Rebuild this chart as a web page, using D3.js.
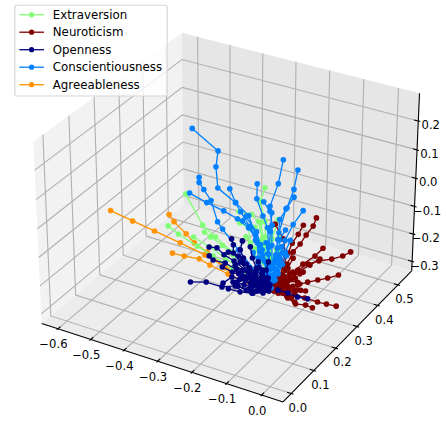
<!DOCTYPE html>
<html>
<head>
<meta charset="utf-8">
<script src="https://d3js.org/d3.v7.min.js"></script>
<style>
  html, body { margin: 0; padding: 0; background: #fff; }
  svg { display: block; }
  text { font-family: "DejaVu Sans", sans-serif; fill: #000; }
</style>
</head>
<body>
<div id="chart"></div>
<script>
// legend order and colours
var traitNames = ['Extraversion', 'Neuroticism', 'Openness', 'Conscientiousness', 'Agreeableness'];
var traitColors = ['#80ff77', '#800000', '#000080', '#0080ff', '#ff9400'];

var xTicks = [-0.6, -0.5, -0.4, -0.3, -0.2, -0.1, 0.0];
var yTicks = [0.0, 0.1, 0.2, 0.3, 0.4, 0.5];
var zTicks = [-0.3, -0.2, -0.1, 0.0, 0.1, 0.2];
var xLim = [-0.65, 0.06];
var yLim = [-0.036, 0.57];
var zLim = [-0.335, 0.295];

// each trait is a list of trajectories, each point is [x, y, z]
var extraversion = [
  [[-0.238,0,0.233],[-0.191,0,0.147],[-0.155,0,0.120],[-0.108,0,0.086],[-0.064,0,0.049],[-0.025,0,0.023]],
  [[-0.289,0,0.110],[-0.260,0,0.093],[-0.206,0,0.071],[-0.162,0,0.054],[-0.108,0,0.032],[-0.053,0,0.019]],
  [[-0.186,0,0.125],[-0.169,0,0.115],[-0.136,0,0.099],[-0.105,0,0.077],[-0.058,0,0.044]],
  [[-0.217,0,0.098],[-0.172,0,0.081],[-0.127,0,0.059],[-0.072,0,0.032]],
  [[-0.019,0,0.327],[-0.032,0,0.278],[-0.018,0,0.219],[-0.017,0,0.169],[-0.009,0,0.113],[-0.003,0,0.048]],
  [[-0.090,0,0.226],[-0.055,0,0.229],[-0.036,0,0.212],[-0.025,0,0.157],[-0.014,0,0.087]],
  [[0,0.027,0.212],[0,0.002,0.165],[0,0.002,0.105],[0,0.002,0.038]],
  [[-0.088,0,0.190],[-0.063,0,0.182],[-0.058,0,0.134],[-0.036,0,0.079],[-0.008,0,0.030]],
  [[0,0.038,0.098],[0,0.021,0.056],[0,0.008,0.019]],
  [[-0.030,0,0.211],[-0.019,0,0.142],[-0.008,0,0.069]],
  [[-0.045,0,0.190],[-0.035,0,0.150],[-0.022,0,0.110],[-0.010,0,0.060]],
  [[-0.005,0,0.195],[-0.003,0,0.150],[-0.002,0,0.100]],
  [[0,0.030,0.150],[0,0.022,0.115],[0,0.012,0.070]],
  [[-0.070,0,0.150],[-0.045,0,0.120],[-0.025,0,0.085],[-0.010,0,0.045]]
];
var neuroticism = [
  [[0,0.360,-0.135],[0,0.322,-0.122],[0,0.270,-0.095],[0,0.210,-0.058],[0,0.161,-0.033],[0,0.116,-0.020],[0,0.060,-0.013]],
  [[0,0.228,-0.027],[0,0.192,-0.028],[0,0.138,-0.016],[0,0.094,-0.011],[0,0.047,-0.010]],
  [[0,0.304,-0.176],[0,0.253,-0.149],[0,0.207,-0.122],[0,0.161,-0.095],[0,0.117,-0.072],[0,0.073,-0.046],[0,0.038,-0.024]],
  [[0,0.297,-0.282],[0,0.250,-0.239],[0,0.208,-0.200],[0,0.149,-0.141],[0,0.104,-0.094],[0,0.060,-0.047]],
  [[0,0.185,-0.203],[0,0.153,-0.169],[0,0.108,-0.131],[0,0.073,-0.084],[0,0.038,-0.040]],
  [[0,0.195,0.100],[0,0.181,0.082],[0,0.150,0.074],[0,0.124,0.062],[0,0.094,0.057],[0,0.068,0.035],[0,0.038,0.010]],
  [[0,0.137,0.116],[0,0.115,0.101],[0,0.089,0.090],[0,0.072,0.069],[0,0.051,0.041],[0,0.034,0.006]],
  [[0,0.015,0.205],[0,0.050,0.132],[0,0.059,0.082],[0,0.051,0.044],[0,0.030,0.003]],
  [[0,0.215,-0.055],[0,0.170,-0.043],[0,0.116,-0.027],[0,0.081,-0.022],[0,0.038,-0.013]],
  [[0,0.152,-0.119],[0,0.112,-0.086],[0,0.077,-0.053],[0,0.038,-0.020]],
  [[0,0.094,0.036],[0,0.072,0.018],[0,0.047,0.003]],
  [[0,0.116,-0.062],[0,0.073,-0.026],[0,0.038,0.000]],
  [[0,0.104,-0.121],[0,0.068,-0.073],[0,0.030,-0.024]],
  [[0,0.125,-0.075],[0,0.095,-0.060],[0,0.070,-0.040],[0,0.045,-0.025],[0,0.020,-0.010]],
  [[0,0.130,-0.100],[0,0.100,-0.080],[0,0.075,-0.060],[0,0.050,-0.040],[0,0.025,-0.020]],
  [[0,0.105,-0.040],[0,0.085,-0.030],[0,0.060,-0.025],[0,0.035,-0.010],[0,0.015,-0.005]],
  [[0,0.090,-0.095],[0,0.070,-0.075],[0,0.050,-0.050],[0,0.030,-0.035],[0,0.012,-0.015]],
  [[0,0.080,-0.005],[0,0.060,-0.002],[0,0.045,-0.005],[0,0.025,0.000],[0,0.010,0.002]],
  [[0,0.060,0.020],[0,0.045,0.015],[0,0.030,0.018],[0,0.015,0.010]],
  [[0,0.140,-0.045],[0,0.125,-0.040],[0,0.100,-0.020]]
];
var openness = [
  [[-0.227,0,-0.058],[-0.182,0,-0.042],[-0.137,0,-0.042],[-0.100,0,-0.025],[-0.053,0,-0.022],[-0.017,0,-0.005]],
  [[-0.173,0,0.080],[-0.151,0,0.085],[-0.131,0,0.069],[-0.103,0,0.058],[-0.072,0,0.039],[-0.036,0,0.018]],
  [[-0.173,0,0.050],[-0.162,0,0.040],[-0.128,0,0.042],[-0.095,0,0.031],[-0.058,0,0.017],[-0.025,0,0.006]],
  [[-0.110,0,0.129],[-0.105,0,0.111],[-0.105,0,0.084],[-0.086,0,0.061],[-0.064,0,0.035],[-0.030,0,0.010]],
  [[-0.080,0,0.133],[-0.086,0,0.101],[-0.077,0,0.077],[-0.061,0,0.049],[-0.044,0,0.029],[-0.017,0,0.008]],
  [[-0.134,0,-0.028],[-0.109,0,0.002],[-0.086,0,0.003],[-0.058,0,0.000],[-0.025,0,-0.001]],
  [[-0.106,0,-0.014],[-0.092,0,-0.023],[-0.069,0,-0.028],[-0.050,0,-0.031],[-0.022,0,-0.020]],
  [[0,0.162,-0.154],[0,0.116,-0.113],[0,0.073,-0.067],[0,0.030,-0.025]],
  [[-0.058,0,0.121],[-0.052,0,0.086],[-0.041,0,0.057],[-0.025,0,0.029],[-0.008,0,0.012]],
  [[-0.119,0,0.082],[-0.091,0,0.079],[-0.069,0,0.060],[-0.044,0,0.042],[-0.017,0,0.019]],
  [[-0.136,0,0.026],[-0.108,0,0.019],[-0.080,0,0.015],[-0.053,0,0.012],[-0.019,0,0.008]],
  [[-0.119,0,-0.042],[-0.086,0,-0.040],[-0.053,0,-0.032],[-0.025,0,-0.015]],
  [[-0.008,0,0.089],[-0.014,0,0.060],[-0.008,0,0.035],[-0.003,0,0.014]],
  [[-0.036,0,0.079],[-0.025,0,0.056],[-0.014,0,0.033]],
  [[-0.072,0,0.005],[-0.044,0,-0.001],[-0.017,0,-0.008]],
  [[-0.100,0,0.045],[-0.080,0,0.035],[-0.060,0,0.030],[-0.040,0,0.020],[-0.015,0,0.010]],
  [[-0.090,0,0.020],[-0.070,0,0.015],[-0.050,0,0.012],[-0.030,0,0.006],[-0.010,0,0.002]],
  [[-0.075,0,0.060],[-0.060,0,0.050],[-0.045,0,0.035],[-0.030,0,0.022],[-0.012,0,0.012]],
  [[-0.095,0,-0.010],[-0.075,0,-0.012],[-0.055,0,-0.012],[-0.035,0,-0.010],[-0.012,0,-0.006]],
  [[-0.060,0,-0.020],[-0.040,0,-0.020],[-0.020,0,-0.012],[-0.006,0,-0.008]],
  [[-0.035,0,0.060],[-0.025,0,0.045],[-0.018,0,0.030],[-0.008,0,0.018]],
  [[-0.020,0,0.030],[-0.012,0,0.020],[-0.005,0,0.006]]
];
var conscientiousness = [
  [[-0.218,0,0.452],[-0.147,0,0.403],[-0.153,0,0.350],[-0.148,0,0.283],[-0.099,0,0.252],[-0.085,0,0.227],[-0.058,0,0.184],[-0.025,0,0.123],[-0.008,0,0.062]],
  [[-0.200,0,0.301],[-0.200,0,0.284],[-0.187,0,0.265],[-0.167,0,0.236],[-0.149,0,0.172],[-0.135,0,0.153],[-0.091,0,0.099],[-0.041,0,0.043]],
  [[-0.227,0,0.240],[-0.179,0,0.225],[-0.132,0,0.214],[-0.094,0,0.201],[-0.063,0,0.182],[-0.030,0,0.138],[-0.008,0,0.069]],
  [[-0.115,0,0.292],[-0.099,0,0.252],[-0.063,0,0.222],[-0.044,0,0.165],[-0.025,0,0.107],[-0.008,0,0.045]],
  [[-0.040,0,0.333],[-0.041,0,0.284],[-0.024,0,0.234],[-0.011,0,0.200],[-0.008,0,0.137],[-0.003,0,0.065]],
  [[-0.022,0,0.281],[-0.005,0,0.256],[0.001,0,0.213],[0.001,0,0.147],[0.002,0,0.081]],
  [[0,0.046,0.392],[0,0.026,0.329],[-0.005,0,0.272],[0,0,0.253],[-0.003,0,0.190],[-0.008,0,0.114]],
  [[0,0.109,0.317],[0,0.093,0.265],[0,0.064,0.224],[0,0.034,0.207],[0,0.027,0.146],[0,0.015,0.081]],
  [[0,0.094,0.239],[0,0.060,0.224],[0,0.031,0.166],[0,0.019,0.102],[0,0.008,0.043]],
  [[0,0.135,0.166],[0,0.092,0.150],[0,0.058,0.122],[0,0.033,0.081],[0,0.008,0.033]],
  [[-0.080,0,0.199],[-0.060,0,0.187],[-0.044,0,0.149],[-0.025,0,0.097],[-0.008,0,0.045]],
  [[-0.071,0,0.216],[-0.041,0,0.177],[-0.030,0,0.138],[-0.017,0,0.086]],
  [[0,0.059,0.155],[0,0.034,0.140],[0,0.030,0.093],[0,0.017,0.053],[0,0,0.005]],
  [[-0.039,0,0.141],[-0.036,0,0.092],[-0.025,0,0.056],[-0.003,0,0.024]],
  [[0,0.081,0.105],[0,0.059,0.082],[0,0.038,0.054],[0,0.017,0.019]],
  [[-0.030,0,0.115],[-0.020,0,0.090],[-0.012,0,0.060],[-0.005,0,0.030]],
  [[-0.015,0,0.150],[-0.010,0,0.115],[-0.006,0,0.075],[-0.002,0,0.035]],
  [[0,0.025,0.120],[0,0.018,0.090],[0,0.012,0.060],[0,0.006,0.025]],
  [[0,0.050,0.085],[0,0.038,0.070],[0,0.025,0.045],[0,0.012,0.020]],
  [[-0.050,0,0.105],[-0.035,0,0.075],[-0.020,0,0.045],[-0.008,0,0.020]],
  [[0,0.065,0.065],[0,0.048,0.048],[0,0.030,0.030]],
  [[0,0.045,0.110],[0,0.032,0.080],[0,0.020,0.050]]
];
var agreeableness = [
  [[-0.456,0,0.104],[-0.392,0,0.091],[-0.329,0,0.079],[-0.255,0,0.065],[-0.185,0,0.049],[-0.114,0,0.024],[-0.053,0,0.005]],
  [[-0.286,0,0.149],[-0.272,0,0.130],[-0.238,0,0.101],[-0.215,0,0.079],[-0.179,0,0.061],[-0.128,0,0.026],[-0.064,0,0.008]],
  [[-0.278,0,0.022],[-0.244,0,0.024],[-0.201,0,0.030],[-0.171,0,0.020],[-0.120,0,0.008],[-0.058,0,-0.003]]
];

// back to front: mplot3d sorts its artists by depth, this order is what shows in the picture
var drawOrder = [
  { trait: 4, paths: agreeableness },
  { trait: 0, paths: extraversion },
  { trait: 1, paths: neuroticism },
  { trait: 3, paths: conscientiousness },
  { trait: 2, paths: openness }
];

var width = 446, height = 424;

var svg = d3.select('#chart').append('svg')
  .attr('width', width)
  .attr('height', height)
  .attr('viewBox', `0 0 ${width} ${height}`);

// box coordinates, same proportions as mplot3d (4:4:3)
var xBox = d3.scaleLinear().domain(xLim).range([-0.5714, 0.5714]);
var yBox = d3.scaleLinear().domain(yLim).range([-0.5714, 0.5714]);
var zBox = d3.scaleLinear().domain(zLim).range([-0.4286, 0.4286]);

// projected plane to pixels
var xScreen = d3.scaleLinear().domain([-1, 1]).range([-12, 472]);
var yScreen = d3.scaleLinear().domain([-1, 1]).range([450.8, -33.2]);

// elev 30, azim -60, dist 10
var camU = [0.866, 0.5, 0];
var camV = [-0.25, 0.433, 0.866];
var camW = [0.433, -0.75, 0.5];
var dist = 10;

function dot(a, b) {
  return a[0] * b[0] + a[1] * b[1] + a[2] * b[2];
}

function project(p) {
  var q = [xBox(p[0]), yBox(p[1]), zBox(p[2])];
  var s = dist / (dist - dot(q, camW));
  return [xScreen(dot(q, camU) * s), yScreen(dot(q, camV) * s)];
}

var line3d = d3.line()
  .x(d => project(d)[0])
  .y(d => project(d)[1]);

// panes
var panes = [
  { color: '#f2f2f2', pts: [[xLim[0], yLim[0], zLim[0]], [xLim[0], yLim[1], zLim[0]], [xLim[0], yLim[1], zLim[1]], [xLim[0], yLim[0], zLim[1]]] },
  { color: '#e6e6e6', pts: [[xLim[0], yLim[1], zLim[0]], [xLim[1], yLim[1], zLim[0]], [xLim[1], yLim[1], zLim[1]], [xLim[0], yLim[1], zLim[1]]] },
  { color: '#ececec', pts: [[xLim[0], yLim[0], zLim[0]], [xLim[1], yLim[0], zLim[0]], [xLim[1], yLim[1], zLim[0]], [xLim[0], yLim[1], zLim[0]]] }
];

svg.append('g').selectAll('path')
  .data(panes)
  .join('path')
  .attr('d', d => line3d(d.pts) + 'Z')
  .attr('fill', d => d.color);

// grid
var gridLines = [];
xTicks.forEach(t => gridLines.push([[t, yLim[0], zLim[0]], [t, yLim[1], zLim[0]], [t, yLim[1], zLim[1]]]));
yTicks.forEach(t => gridLines.push([[xLim[1], t, zLim[0]], [xLim[0], t, zLim[0]], [xLim[0], t, zLim[1]]]));
zTicks.forEach(t => gridLines.push([[xLim[0], yLim[0], t], [xLim[0], yLim[1], t], [xLim[1], yLim[1], t]]));

svg.append('g').selectAll('path')
  .data(gridLines)
  .join('path')
  .attr('d', line3d)
  .attr('fill', 'none')
  .attr('stroke', '#b0b0b0')
  .attr('stroke-width', 1.1);

// axis lines and tick marks
var axisLines = [
  [[xLim[0], yLim[0], zLim[0]], [xLim[1], yLim[0], zLim[0]]],
  [[xLim[1], yLim[0], zLim[0]], [xLim[1], yLim[1], zLim[0]]],
  [[xLim[1], yLim[1], zLim[0]], [xLim[1], yLim[1], zLim[1]]]
];
var xSpan = xLim[1] - xLim[0], ySpan = yLim[1] - yLim[0];
xTicks.forEach(t => axisLines.push([[t, yLim[0] - ySpan * 0.0083, zLim[0]], [t, yLim[0] + ySpan * 0.0167, zLim[0]]]));
yTicks.forEach(t => axisLines.push([[xLim[1] + xSpan * 0.0083, t, zLim[0]], [xLim[1] - xSpan * 0.0167, t, zLim[0]]]));
zTicks.forEach(t => axisLines.push([[xLim[1] + xSpan * 0.0083, yLim[1], t], [xLim[1] - xSpan * 0.0167, yLim[1], t]]));

svg.append('g').selectAll('path')
  .data(axisLines)
  .join('path')
  .attr('d', line3d)
  .attr('fill', 'none')
  .attr('stroke', '#000')
  .attr('stroke-width', 1.1);

// tick labels
var fmt = d3.format('.1f');
var tickLabels = [];
xTicks.forEach(t => {
  var p = project([t, yLim[0], zLim[0]]);
  tickLabels.push({ text: fmt(t), x: p[0] - 4.5, y: p[1] + 15.5 });
});
yTicks.forEach(t => {
  var p = project([xLim[1], t, zLim[0]]);
  tickLabels.push({ text: fmt(t), x: p[0] + 6.5, y: p[1] + 14 });
});
zTicks.forEach(t => {
  var p = project([xLim[1], yLim[1], t]);
  tickLabels.push({ text: fmt(t), x: p[0] + 12.5, y: p[1] + 4 });
});

svg.append('g').selectAll('text')
  .data(tickLabels)
  .join('text')
  .attr('x', d => d.x)
  .attr('y', d => d.y)
  .attr('text-anchor', 'middle')
  .attr('dy', '0.36em')
  .style('font-size', '11.6px')
  .text(d => d.text);

// trajectories
var markGroup = svg.append('g');
drawOrder.forEach(function(s) {
  var g = markGroup.append('g');
  g.selectAll('path')
    .data(s.paths)
    .join('path')
    .attr('d', line3d)
    .attr('fill', 'none')
    .attr('stroke', traitColors[s.trait])
    .attr('stroke-width', 1.3);
  g.selectAll('circle')
    .data(s.paths.flat())
    .join('circle')
    .attr('cx', d => project(d)[0])
    .attr('cy', d => project(d)[1])
    .attr('r', 2.8)
    .attr('fill', traitColors[s.trait]);
});

// legend
var legend = svg.append('g');
legend.append('rect')
  .attr('x', 14.8)
  .attr('y', 5.2)
  .attr('width', 152.4)
  .attr('height', 90.8)
  .attr('rx', 2)
  .attr('fill', '#fff')
  .attr('fill-opacity', 0.8)
  .attr('stroke', '#d5d5d5')
  .attr('stroke-width', 1.1);

var rowScale = d3.scalePoint().domain(traitNames).range([14.7, 84.7]);
var rows = legend.selectAll('g')
  .data(traitNames)
  .join('g')
  .attr('transform', d => `translate(0, ${rowScale(d)})`);

rows.append('line')
  .attr('x1', 19.3)
  .attr('x2', 44)
  .attr('stroke', (d, i) => traitColors[i])
  .attr('stroke-width', 1.3);
rows.append('circle')
  .attr('cx', 31.6)
  .attr('r', 2.6)
  .attr('fill', (d, i) => traitColors[i]);
rows.append('text')
  .attr('x', 52.8)
  .attr('dy', '0.36em')
  .style('font-size', '11.8px')
  .text(d => d);
</script>
</body>
</html>
